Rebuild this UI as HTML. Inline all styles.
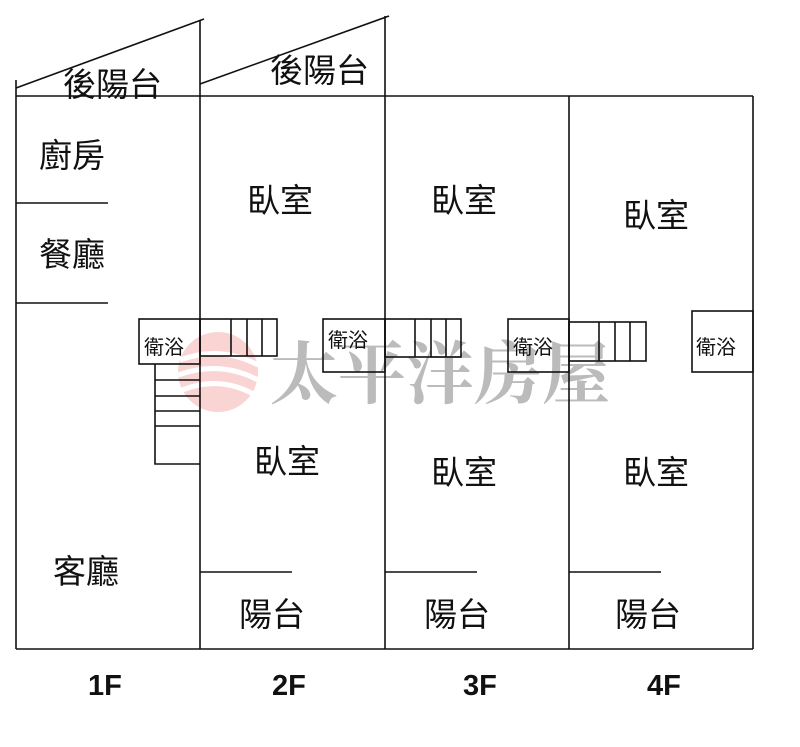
<!DOCTYPE html><html><head><style>body{margin:0;background:#fff}svg text{font-family:"Liberation Sans","Noto Sans CJK TC",sans-serif;fill:#111}</style></head><body>
<svg width="800" height="742" xmlns="http://www.w3.org/2000/svg">
<g opacity="0.45">
<circle cx="218" cy="372" r="40" fill="#f4a0a0"/>
<path d="M180 360 Q220 345 258 365 M178 375 Q220 360 258 380 M182 390 Q220 375 255 395" stroke="#fff" stroke-width="5" fill="none"/>
</g>
<text x="270" y="398" font-size="68" style="fill:#bbb;font-family:'Liberation Serif','Noto Serif CJK SC',serif;font-weight:bold">太平洋房屋</text>
<g stroke="#111" stroke-width="1.6" fill="none">
<line x1="16" y1="80" x2="16" y2="649"/>
<line x1="16" y1="649" x2="753" y2="649"/>
<line x1="16" y1="96" x2="753" y2="96"/>
<line x1="200" y1="20" x2="200" y2="649"/>
<line x1="385" y1="16" x2="385" y2="649"/>
<line x1="569" y1="96" x2="569" y2="649"/>
<line x1="753" y1="96" x2="753" y2="649"/>
<line x1="16" y1="88" x2="204" y2="19"/>
<line x1="200" y1="84" x2="389" y2="16"/>
<line x1="16" y1="203" x2="108" y2="203"/>
<line x1="16" y1="303" x2="108" y2="303"/>
<rect x="139" y="319" width="61" height="45"/>
<polyline points="155,364 155,464 200,464"/>
<line x1="155" y1="380" x2="200" y2="380"/>
<line x1="155" y1="396" x2="200" y2="396"/>
<line x1="155" y1="411" x2="200" y2="411"/>
<line x1="155" y1="426" x2="200" y2="426"/>
<rect x="200" y="319" width="77" height="37"/>
<line x1="231" y1="319" x2="231" y2="356"/><line x1="247" y1="319" x2="247" y2="356"/><line x1="262" y1="319" x2="262" y2="356"/>
<rect x="323" y="319" width="62" height="53"/>
<rect x="385" y="319" width="76" height="38"/>
<line x1="415" y1="319" x2="415" y2="357"/><line x1="431" y1="319" x2="431" y2="357"/><line x1="446" y1="319" x2="446" y2="357"/>
<rect x="508" y="319" width="61" height="53"/>
<rect x="569" y="322" width="77" height="39"/>
<line x1="599" y1="322" x2="599" y2="361"/><line x1="615" y1="322" x2="615" y2="361"/><line x1="630" y1="322" x2="630" y2="361"/>
<rect x="692" y="311" width="61" height="61"/>
<line x1="200" y1="572" x2="292" y2="572"/>
<line x1="385" y1="572" x2="477" y2="572"/>
<line x1="569" y1="572" x2="661" y2="572"/>
</g>
<g font-size="33">
<text x="63" y="96">後陽台</text>
<text x="270" y="82">後陽台</text>
<text x="39" y="167">廚房</text>
<text x="39" y="266">餐廳</text>
<text x="247" y="212">臥室</text>
<text x="431" y="212">臥室</text>
<text x="623" y="227">臥室</text>
<text x="254" y="473">臥室</text>
<text x="431" y="484">臥室</text>
<text x="623" y="484">臥室</text>
<text x="53" y="583">客廳</text>
<text x="239" y="626">陽台</text>
<text x="424" y="626">陽台</text>
<text x="615" y="626">陽台</text>
</g>
<g font-size="20">
<text x="144" y="354">衛浴</text>
<text x="328" y="347">衛浴</text>
<text x="513" y="354">衛浴</text>
<text x="696" y="354">衛浴</text>
</g>
<g font-size="29" font-weight="bold">
<text x="88" y="695">1F</text>
<text x="272" y="695">2F</text>
<text x="463" y="695">3F</text>
<text x="647" y="695">4F</text>
</g>
</svg></body></html>
